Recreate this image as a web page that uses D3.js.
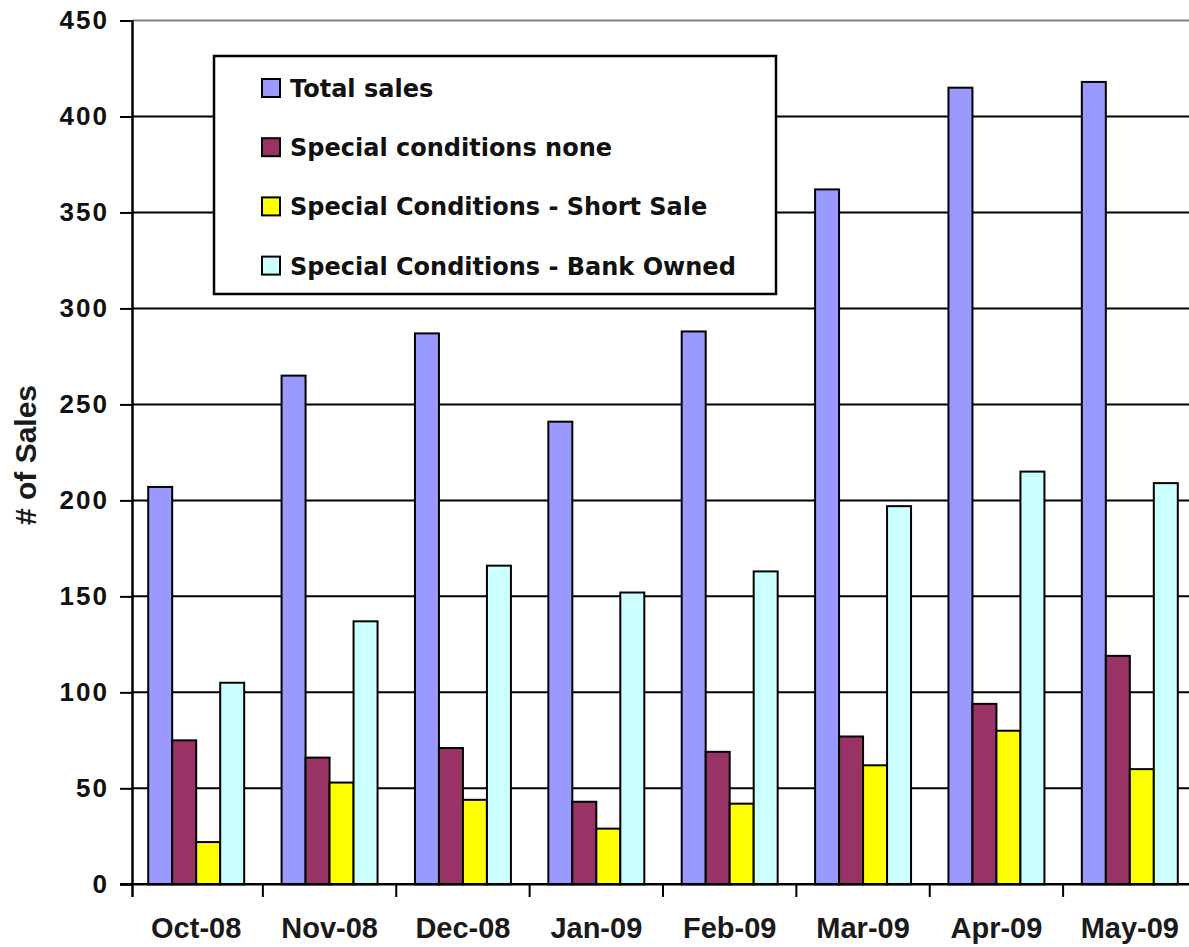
<!DOCTYPE html>
<html>
<head>
<meta charset="utf-8">
<script src="https://cdn.jsdelivr.net/npm/d3@7"></script>
<style>
  html, body { margin: 0; padding: 0; background: #fff; }
  svg { display: block; }
</style>
</head>
<body>
<svg id="chart" width="1189" height="947"></svg>
<script>
// Monthly sales by special-conditions type
const categories = ["Oct-08", "Nov-08", "Dec-08", "Jan-09", "Feb-09", "Mar-09", "Apr-09", "May-09"];
const totalSales      = [207, 265, 287, 241, 288, 362, 415, 418];
const conditionsNone  = [75, 66, 71, 43, 69, 77, 94, 119];
const shortSale       = [22, 53, 44, 29, 42, 62, 80, 60];
const bankOwned       = [105, 137, 166, 152, 163, 197, 215, 209];
const seriesNames = ["Total sales", "Special conditions none", "Special Conditions - Short Sale", "Special Conditions - Bank Owned"];
const seriesColors = ["#9999ff", "#993366", "#ffff00", "#ccffff"];
const yTicks = [0, 50, 100, 150, 200, 250, 300, 350, 400, 450];
const yTitle = "# of Sales";

const seriesValues = [totalSales, conditionsNone, shortSale, bankOwned];

const svg = d3.select("#chart");
const W = 1189;
const axisX = 132.5;

const y = d3.scaleLinear().domain([0, 450]).range([884.3, 20.5]);
const x0 = d3.scaleBand().domain(categories).range([129.5, 1196.5]).padding(0);
const inset = 18.7;
const x1 = d3.scaleBand().domain(d3.range(seriesNames.length))
  .range([inset, x0.bandwidth() - inset]).padding(0);

// horizontal gridlines
svg.append("g").selectAll("line")
  .data(yTicks.filter(t => t > 0))
  .join("line")
  .attr("x1", axisX).attr("x2", W)
  .attr("y1", d => y(d)).attr("y2", d => y(d))
  .attr("stroke", d => d === 450 ? "#808080" : "#000")
  .attr("stroke-width", 2);

// bars
const groups = svg.append("g").selectAll("g")
  .data(categories)
  .join("g")
  .attr("transform", d => `translate(${x0(d)},0)`);

groups.selectAll("rect")
  .data((d, i) => seriesValues.map((vals, s) => ({ s, v: vals[i] })))
  .join("rect")
  .attr("x", d => x1(d.s))
  .attr("width", x1.bandwidth())
  .attr("y", d => y(d.v))
  .attr("height", d => y(0) - y(d.v))
  .attr("fill", d => seriesColors[d.s])
  .attr("stroke", "#000")
  .attr("stroke-width", 2);

// y axis
const yAxis = d3.axisLeft(y).tickValues(yTicks).tickSize(12.5).tickPadding(13);
const gy = svg.append("g").attr("transform", `translate(${axisX},0)`).call(yAxis);
gy.select(".domain").remove();
gy.selectAll(".tick line").attr("stroke", "#000").attr("stroke-width", 2);
gy.selectAll(".tick text")
  .attr("font-family", "'Liberation Sans', Arial, sans-serif")
  .attr("font-weight", "bold")
  .attr("font-size", 26)
  .attr("letter-spacing", "2px")
  .attr("dx", "2px")
  .attr("fill", "#111");
svg.append("line")
  .attr("x1", axisX).attr("x2", axisX)
  .attr("y1", y(450)).attr("y2", 897)
  .attr("stroke", "#000").attr("stroke-width", 2.5);

// x axis
const xAxis = d3.axisBottom(x0).tickSize(0).tickPadding(0);
const gx = svg.append("g").attr("transform", `translate(0,${y(0)})`).call(xAxis);
gx.select(".domain").remove();
gx.selectAll(".tick text")
  .attr("y", 54)
  .attr("dy", 0)
  .attr("font-family", "'Liberation Sans', Arial, sans-serif")
  .attr("font-weight", "bold")
  .attr("font-size", 29)
  .attr("fill", "#1a1a1a");
svg.append("line")
  .attr("x1", 120).attr("x2", W)
  .attr("y1", y(0)).attr("y2", y(0))
  .attr("stroke", "#000").attr("stroke-width", 2.5);
// category separators
svg.append("g").selectAll("line")
  .data(categories.slice(1))
  .join("line")
  .attr("x1", d => x0(d)).attr("x2", d => x0(d))
  .attr("y1", y(0)).attr("y2", 897)
  .attr("stroke", "#000").attr("stroke-width", 2);

// y axis title
svg.append("text")
  .attr("transform", "translate(36,455) rotate(-90)")
  .attr("text-anchor", "middle")
  .attr("font-family", "'Liberation Sans', Arial, sans-serif")
  .attr("font-weight", "bold")
  .attr("font-size", 30)
  .attr("fill", "#1a1a1a")
  .text(yTitle);

// legend
const legend = svg.append("g");
legend.append("rect")
  .attr("x", 214).attr("y", 56).attr("width", 562).attr("height", 238)
  .attr("fill", "#fff").attr("stroke", "#000").attr("stroke-width", 2.5);
const items = legend.selectAll("g.item")
  .data(seriesNames)
  .join("g")
  .attr("class", "item")
  .attr("transform", (d, i) => `translate(0,${88 + i * 59.2})`);
items.append("rect")
  .attr("x", 262).attr("y", -9).attr("width", 18).attr("height", 18)
  .attr("fill", (d, i) => seriesColors[i])
  .attr("stroke", "#000").attr("stroke-width", 2);
items.append("text")
  .attr("x", 290).attr("y", 9)
  .attr("font-family", "'DejaVu Sans', Verdana, sans-serif")
  .attr("font-weight", "bold")
  .attr("font-size", 24)
  .attr("fill", "#111")
  .text(d => d);
</script>
</body>
</html>
